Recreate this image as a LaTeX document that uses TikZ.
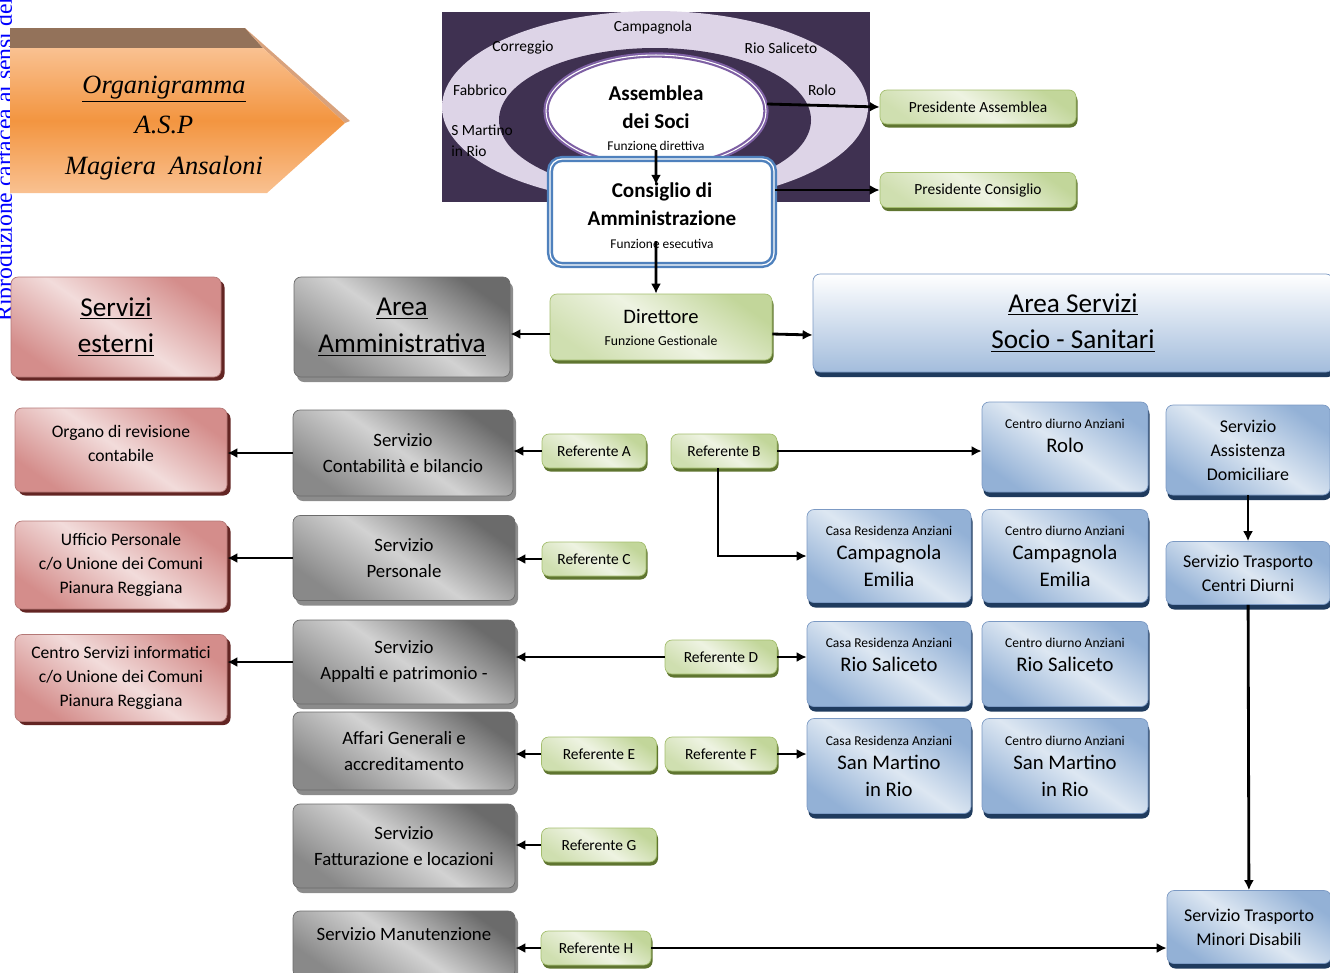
\documentclass[tikz,border=0pt]{standalone}
\usepackage{fontspec}
\setmainfont{Carlito}
\newfontfamily\seriffont{Liberation Serif}
\usetikzlibrary{arrows.meta,shapes.geometric,shadows}

\definecolor{pinkdk}{HTML}{D48D8B}
\definecolor{pinklt}{HTML}{F2DCDB}
\definecolor{pinksh}{HTML}{632523}
\definecolor{graydk}{HTML}{6B6B6B}
\definecolor{graylt}{HTML}{D2D2D2}
\definecolor{graysh}{HTML}{8C8C8C}
\definecolor{bluedk}{HTML}{93B1D6}
\definecolor{bluelt}{HTML}{DDE7F2}
\definecolor{bluebd}{HTML}{7C9AC4}
\definecolor{bluesh}{HTML}{1F3B5E}
\definecolor{greendk}{HTML}{C2D69A}
\definecolor{greenlt}{HTML}{EEF3E2}
\definecolor{greenbd}{HTML}{A4BE6E}
\definecolor{greensh}{HTML}{5F7530}
\definecolor{purpbg}{HTML}{3F3151}
\definecolor{ringlt}{HTML}{DDD4E7}
\definecolor{ringmd}{HTML}{BDADD0}
\definecolor{ringdk}{HTML}{9A84B6}
\definecolor{asmbd}{HTML}{7E60A4}
\definecolor{cdabd}{HTML}{4F81BD}
\definecolor{orlt}{HTML}{F9C191}
\definecolor{ordk}{HTML}{F39540}
\definecolor{orbrown}{HTML}{93725A}
\definecolor{ortan}{HTML}{D9A27C}
\definecolor{wmblue}{HTML}{0000FF}

\pgfdeclareradialshading{ringsh}{\pgfpointorigin}{color(0bp)=(ringlt); color(36bp)=(ringlt); color(44bp)=(ringmd); color(50bp)=(ringdk)}
\newcommand{\smalltxt}{\fontsize{7.7}{9.5}\selectfont}

\begin{document}
\begin{tikzpicture}[x=0.2mm, y=-0.2mm,
  font=\fontsize{10}{13.6}\selectfont, >={Latex[length=2mm, width=2mm]},
  sz/.style 2 args={minimum width=#1*0.2mm, minimum height=#2*0.2mm},
  box/.style={rounded corners=1.4mm, align=center, inner sep=1pt, line width=0.4pt},
  pinkbox/.style={box, draw=pinkdk!85!black, top color=pinkdk, bottom color=pinkdk, middle color=pinklt, shading angle=-35,
    drop shadow={fill=pinksh, opacity=1, shadow xshift=0.7mm, shadow yshift=-0.7mm}},
  graybox/.style={box, draw=graydk, top color=graydk, bottom color=graydk!80, middle color=graylt, shading angle=-35,
    drop shadow={fill=graysh, opacity=1, shadow xshift=0.6mm, shadow yshift=-1mm}, font=\fontsize{10.7}{14.8}\selectfont},
  bluebox/.style={box, draw=bluebd, top color=bluedk, bottom color=bluedk, middle color=bluelt, shading angle=-35,
    drop shadow={fill=bluesh, opacity=1, shadow xshift=0.3mm, shadow yshift=-1mm}, font=\fontsize{11.8}{15.4}\selectfont},
  greenbox/.style={box, draw=greenbd, top color=greendk, bottom color=greendk!70!greenlt, middle color=greenlt, shading angle=-35,
    drop shadow={fill=greensh, opacity=1, shadow xshift=0.3mm, shadow yshift=-0.7mm}, font=\fontsize{8.8}{11}\selectfont},
  headtxt/.style={font=\fontsize{15.5}{21}\selectfont},
  svctxt/.style={font=\fontsize{10.2}{13.7}\selectfont},
  ring/.style={inner sep=0pt, font=\fontsize{8.8}{12}\selectfont},
  arr/.style={->, line width=1.6pt}]
  \useasboundingbox (0,0) rectangle (1330,972);
  \node[rotate=90, anchor=base west, inner sep=0pt, text=wmblue, font=\seriffont\fontsize{13.5}{15}\selectfont] (wm) at (12,322) {Riproduzione cartacea ai sensi del};

  \fill[orbrown] (10,28) -- (245,28) -- (263,48) -- (10,48) -- cycle;
  \fill[ortan] (245,28) -- (350,121) -- (345,123) -- (263,48) -- cycle;
  \shade[top color=orlt, bottom color=orlt, middle color=ordk] (10,48) -- (263,48) -- (345,123) -- (267,193) -- (10,193) -- cycle;
  \node[font=\seriffont\itshape\fontsize{15}{23}\selectfont, align=center] (tit) at (164,128) {\underline{Organigramma}\\A.S.P\\Magiera\ \ Ansaloni};

  \fill[purpbg] (442,12) rectangle (870,202);
  \shade[shading=ringsh] (655,107) ellipse [x radius=42.6mm, y radius=19.2mm];
  \fill[purpbg] (655,120) ellipse [x radius=31.2mm, y radius=14.4mm];
  \node[ring] (lcamp) at (653,27) {Campagnola};
  \node[ring] (lcorr) at (523,48) {Correggio};
  \node[ring] (lrios) at (781,48) {Rio Saliceto};
  \node[ring] (lfab)  at (480,90) {Fabbrico};
  \node[ring] (lrolo) at (822,90) {Rolo};
  \node[ring, align=left, anchor=west] (lsma) at (451,141) {S Martino\\in Rio};
  \node[ellipse, draw=asmbd, line width=1.2pt, double=white, double distance=0.6pt, fill=white, sz={220}{100}, inner sep=0pt, align=center,
    text height=45pt, font=\fontsize{12}{16}\selectfont\bfseries] (asm) at (656,111) {Assemblea\\dei Soci\\[-3.5pt]{\mdseries\fontsize{7.6}{9}\selectfont Funzione direttiva}};
  \node[box, rounded corners=2.4mm, draw=cdabd, line width=1.4pt, double=white, double distance=0.7pt, fill=white, sz={224}{106},
    text height=42pt, font=\fontsize{12}{16}\selectfont\bfseries] (cda) at (662,212) {Consiglio di\\Amministrazione\\[-2.5pt]{\mdseries\fontsize{7.6}{9}\selectfont Funzione esecutiva}};
  \node[greenbox, sz={196}{34}] (pa) at (978,107) {Presidente Assemblea};
  \node[greenbox, sz={196}{35}] (pc) at (978,190) {Presidente Consiglio};
  \node[greenbox, sz={222}{66}, font=\fontsize{11.7}{15}\selectfont] (dir) at (661,327) {Direttore\\[-2.5pt]{\fontsize{7.8}{9}\selectfont Funzione Gestionale}};

  \node[pinkbox, headtxt, sz={210}{100}] (est) at (116,327) {\underline{Servizi}\\\underline{esterni}};
  \node[graybox, headtxt, sz={216}{100}] (amm) at (402,327) {\underline{Area}\\\underline{Amministrativa}};
  \node[bluebox, headtxt, top color=white, bottom color=bluedk!85, sz={520}{98}] (sss) at (1073,323) {\underline{Area Servizi}\\\underline{Socio - Sanitari}};

  \node[pinkbox, sz={212}{84}, text depth=7.5pt] (rev) at (121,450) {Organo di revisione\\contabile};
  \node[pinkbox, sz={212}{88}] (uper) at (121,565) {Ufficio Personale\\c/o Unione dei Comuni\\Pianura Reggiana};
  \node[pinkbox, sz={212}{87}] (csi) at (121,678) {Centro Servizi informatici\\c/o Unione dei Comuni\\Pianura Reggiana};

  \node[graybox, sz={220}{86}] (cont) at (403,453) {Servizio\\Contabilità e bilancio};
  \node[graybox, sz={222}{85}] (pers) at (404,558) {Servizio\\Personale};
  \node[graybox, sz={222}{84}] (app) at (404,662) {Servizio\\Appalti e patrimonio -};
  \node[graybox, sz={222}{78}] (aff) at (404,751) {Affari Generali e\\accreditamento};
  \node[graybox, sz={222}{84}] (fatt) at (404,846) {Servizio\\Fatturazione e locazioni};
  \node[graybox, sz={222}{66}, text depth=11.5pt] (man) at (404,944) {Servizio Manutenzione};

  \node[greenbox, sz={104}{34}] (refA) at (594,451) {Referente A};
  \node[greenbox, sz={106}{34}] (refB) at (724,451) {Referente B};
  \node[greenbox, sz={104}{34}] (refC) at (594,559) {Referente C};
  \node[greenbox, sz={112}{34}] (refD) at (721,657) {Referente D};
  \node[greenbox, sz={115}{34}] (refE) at (599,754) {Referente E};
  \node[greenbox, sz={112}{34}] (refF) at (721,754) {Referente F};
  \node[greenbox, sz={115}{34}] (refG) at (599,845) {Referente G};
  \node[greenbox, sz={110}{34}] (refH) at (596,948) {Referente H};

  \node[bluebox, sz={166}{90}, text depth=12.5pt] (rolo) at (1065,447) {{\smalltxt Centro diurno Anziani}\\[-1.7pt]Rolo};
  \node[bluebox, svctxt, sz={164}{90}] (sad) at (1248,450) {Servizio\\Assistenza\\Domiciliare};
  \node[bluebox, sz={164}{93}] (rsaca) at (889,556) {{\smalltxt Casa Residenza Anziani}\\[-1.7pt]Campagnola\\Emilia};
  \node[bluebox, sz={166}{93}] (cdca) at (1065,556) {{\smalltxt Centro diurno Anziani}\\[-1.7pt]Campagnola\\Emilia};
  \node[bluebox, svctxt, sz={164}{63}] (tcd) at (1248,573) {Servizio Trasporto\\Centri Diurni};
  \node[bluebox, sz={164}{85}, text depth=11pt] (rsars) at (889,664) {{\smalltxt Casa Residenza Anziani}\\[-1.7pt]Rio Saliceto};
  \node[bluebox, sz={166}{85}, text depth=11pt] (cdrs) at (1065,664) {{\smalltxt Centro diurno Anziani}\\[-1.7pt]Rio Saliceto};
  \node[bluebox, sz={164}{95}] (rsasm) at (889,766) {{\smalltxt Casa Residenza Anziani}\\[-1.7pt]San Martino\\in Rio};
  \node[bluebox, sz={166}{95}] (cdsm) at (1065,766) {{\smalltxt Centro diurno Anziani}\\[-1.7pt]San Martino\\in Rio};
  \node[bluebox, svctxt, sz={164}{73}] (tmd) at (1249,927) {Servizio Trasporto\\Minori Disabili};

  \draw[arr] ([yshift=1.4mm]asm.east) -- (pa.west);
  \draw[arr] ([yshift=3.6mm]asm.south) -- ([xshift=-1.2mm, yshift=-5.4mm]cda.north);
  \draw[arr] (cda.east |- pc.west) -- (pc.west);
  \draw[arr] ([xshift=-1.2mm, yshift=5mm]cda.south) -- ([xshift=-1mm]dir.north);
  \draw[arr] ([yshift=-1.4mm]dir.west) -- ([yshift=-1.4mm]amm.east);
  \draw[arr] ([yshift=-1.4mm]dir.east) -- ([yshift=-2.4mm]sss.west);
  \foreach \p/\q in {cont/rev,pers/uper,app/csi} {\draw[arr] (\p.west) -- (\p.west -| \q.east);}
  \foreach \p/\q in {refA/cont,refC/pers,refD/app,refE/aff,refG/fatt,refH/man} {\draw[arr] (\p.west) -- (\p.west -| \q.east);}
  \foreach \p/\q in {refB/rolo,refD/rsars,refF/rsasm,refH/tmd} {\draw[arr] (\p.east) -- (\p.east -| \q.west);}
  \draw[arr] ([xshift=-1.2mm]refB.south) |- (rsaca.west);
  \draw[arr] (sad) -- (tcd);
  \draw[arr] (tcd) -- (tmd);
\end{tikzpicture}
\end{document}
